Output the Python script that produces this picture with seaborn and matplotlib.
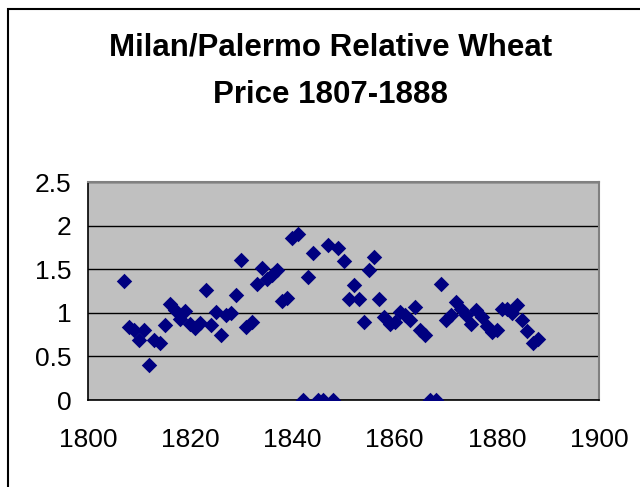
import matplotlib
matplotlib.use("Agg")
import matplotlib.pyplot as plt
import matplotlib.patches as patches
import pandas as pd
import seaborn as sns

# Relative wheat price, Milan / Palermo
years = list(range(1807, 1889))
ratio = [
    1.36, 0.84, 0.80, 0.69, 0.80, 0.40, 0.69, 0.66, 0.86, 1.10,   # 1807-1816
    1.03, 0.93, 1.02, 0.87, 0.83, 0.88, 1.26, 0.86, 1.01, 0.75,   # 1817-1826
    0.97, 1.00, 1.20, 1.61, 0.84, 0.89, 1.33, 1.52, 1.39, 1.44,   # 1827-1836
    1.49, 1.14, 1.17, 1.86, 1.91, 0.00, 1.41, 1.69, 0.00, 0.00,   # 1837-1846
    1.78, 0.00, 1.74, 1.59, 1.16, 1.32, 1.16, 0.89, 1.49, 1.64,   # 1847-1856
    1.16, 0.95, 0.87, 0.89, 1.01, 0.97, 0.92, 1.07, 0.80, 0.75,   # 1857-1866
    0.00, 0.00, 1.33, 0.92, 0.97, 1.12, 1.05, 0.97, 0.87, 1.03,   # 1867-1876
    0.95, 0.85, 0.78, 0.80, 1.04, 1.04, 1.00, 1.09, 0.92, 0.79,   # 1877-1886
    0.65, 0.70,                                                   # 1887-1888
]
x_ticks = [1800, 1820, 1840, 1860, 1880, 1900]
y_ticks = [0, 0.5, 1, 1.5, 2, 2.5]
y_labels = ["0", "0.5", "1", "1.5", "2", "2.5"]

df = pd.DataFrame({"year": years, "ratio": ratio})

sns.set_style("white")
plt.rcParams['font.family'] = ['Liberation Sans', 'DejaVu Sans']
plt.rcParams['text.color'] = 'black'
plt.rcParams['xtick.color'] = 'black'
plt.rcParams['ytick.color'] = 'black'

fig = plt.figure(figsize=(6.4, 4.87), dpi=100)
ax = fig.add_axes([0.1375, 0.1786, 0.7985, 0.4474])
ax.set_facecolor("#C0C0C0")

# chart frame (runs off the right/bottom edge like the original)
fig.patches.append(patches.Rectangle((8 / 640, -0.1), 1.2, 1 - 9 / 487 + 0.1,
                                     transform=fig.transFigure, fill=False,
                                     edgecolor="black", linewidth=1.5))

sns.scatterplot(data=df, x="year", y="ratio", marker="D", s=62,
                color="#000080", edgecolor="#000080", linewidth=0, ax=ax, zorder=3)

ax.set_xlim(1800, 1900)
ax.set_ylim(0, 2.5)
ax.set_xticks(x_ticks)
ax.set_yticks(y_ticks)
ax.set_yticklabels(y_labels)
ax.tick_params(axis="both", labelsize=19, length=7, direction="out")
ax.tick_params(axis="x", color="#808080", pad=13)
ax.tick_params(axis="y", color="black", pad=5)
ax.yaxis.grid(True, color="black", linewidth=1)
ax.set_axisbelow(True)
ax.set_xlabel("")
ax.set_ylabel("")

for side in ["top", "right"]:
    ax.spines[side].set_color("#808080")
    ax.spines[side].set_linewidth(1.5)
ax.spines["left"].set_color("black")
ax.spines["bottom"].set_color("black")
ax.spines["left"].set_linewidth(1.2)
ax.spines["bottom"].set_linewidth(1.2)

fig.text(0.516, 0.853, "Milan/Palermo Relative Wheat\nPrice 1807-1888",
         ha="center", va="center", fontsize=22.5, fontweight="bold",
         color="black", linespacing=1.75)

fig.savefig("out.png", dpi=100)
